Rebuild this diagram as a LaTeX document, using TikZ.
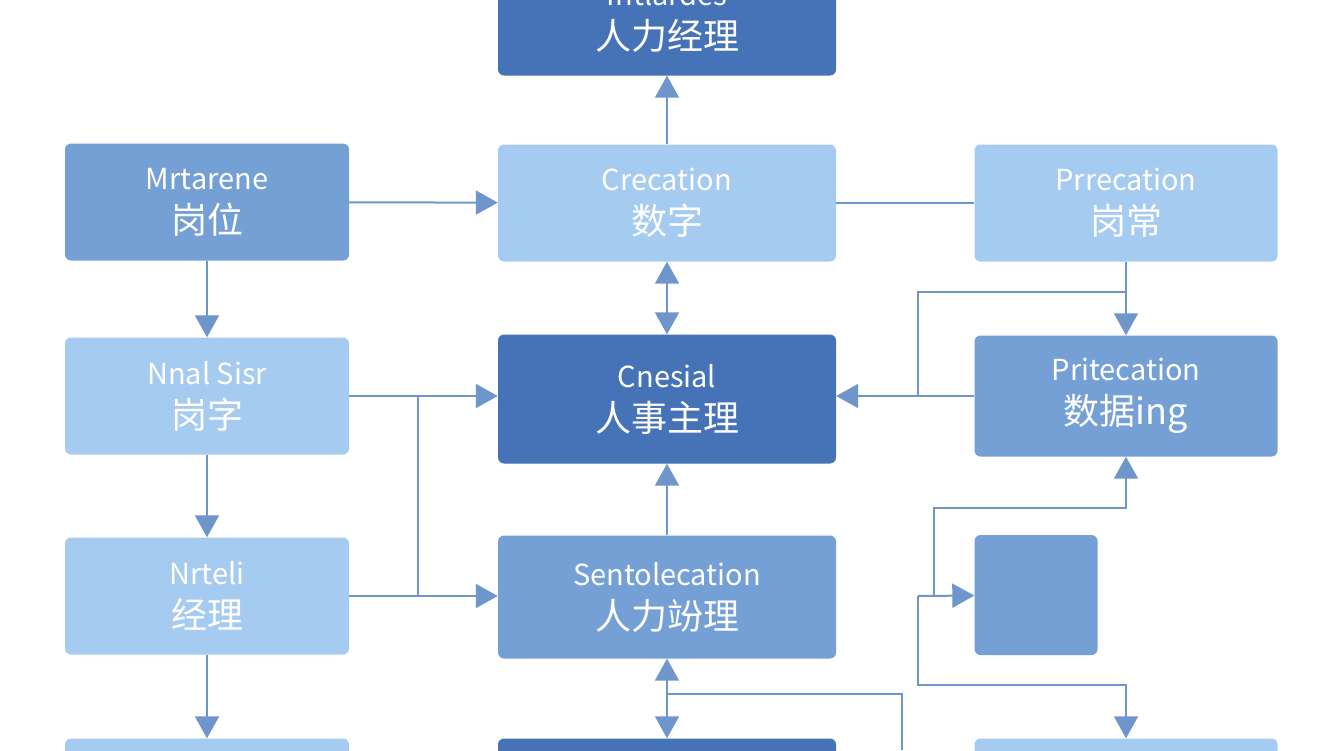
\documentclass[tikz,border=0pt]{standalone}
\usepackage{fontspec}
\setmainfont{Noto Sans CJK SC}
\usetikzlibrary{arrows.meta,positioning}
\definecolor{boxdark}{HTML}{4673B7}
\definecolor{boxmid}{HTML}{74A0D6}
\definecolor{boxlight}{HTML}{A6CBF0}
\definecolor{wire}{HTML}{6F96CB}
\tikzset{box/.style={rectangle,rounded corners=6pt,text=white,align=center,
           font=\fontsize{36}{44}\selectfont,
           minimum width=284pt,minimum height=117pt,inner sep=0pt},
         wide/.style={minimum width=338pt},
         dark/.style={box,fill=boxdark},
         mid/.style={box,fill=boxmid},
         light/.style={box,fill=boxlight},
         wire/.style={draw=wire,line width=2pt},
         arr/.style={wire,-{Triangle[width=24pt,length=22pt]}},
         dbl/.style={wire,{Triangle[width=24pt,length=22pt]}-{Triangle[width=24pt,length=22pt]}}
         }
\newcommand{\lbl}[2]{{\fontsize{29}{44}\selectfont #1}\\#2}

\begin{document}
\begin{tikzpicture}[x=1pt,y=-1pt]
\fill[white] (0,0) rectangle (1344,750);
\useasboundingbox (0,0) rectangle (1344,750);
\clip (0,0) rectangle (1344,750);
% centre column
\node[dark,wide]  (top) at (667,17)  {\lbl{Intlardes}{人力经理}};
\node[light,wide] (c1)  at (667,203) {\lbl{Crecation}{数字}};
\node[dark,wide,minimum height=129pt] (c2) at (667,399) {\lbl{Cnesial}{人事主理}};
\node[mid,wide,minimum height=123pt]  (c3) at (667,597) {\lbl{Sentolecation}{人力竕理}};
\node[dark,wide]  (c4)  at (667,797) {};
% left column
\node[mid]   (l1) at (207,202) {\lbl{Mrtarene}{岗位}};
\node[light] (l2) at (207,396) {\lbl{Nnal Sisr}{岗字}};
\node[light] (l3) at (207,596) {\lbl{Nrteli}{经理}};
\node[light] (l4) at (207,797) {};
% right column
\node[light,minimum width=303pt] (r1) at (1126,203) {\lbl{Prrecation}{岗常}};
\node[mid,minimum width=303pt,minimum height=121pt] (r2) at (1126,396) {\lbl{Pritecation}{数据ing}};
\node[mid,minimum width=123pt,minimum height=120pt] (sq) at (1036,595) {};
\node[light,minimum width=303pt] (r4) at (1126,797) {};
% connectors
\draw[arr] (c1) -- (top);
\draw[arr] (l1) -- (c1);
\draw[wire] (c1) -- (r1);
\draw[dbl] (c1) -- (c2);
\draw[arr] (l1) -- (l2);
\draw[arr] (l2) -- (l3);
\draw[arr] (l3) -- (l4);
\coordinate (ja) at (418,396);
\coordinate (jb) at (418,596);
\draw[arr] (l2) -- (c2.west |- l2);
\draw[arr] (l3) -- (c3.west |- l3);
\draw[wire] (ja) -- (jb);
\draw[arr] (c3) -- (c2);
\draw[dbl] (c3) -- (c4);
\coordinate (jc) at (667,694);
\coordinate (jd) at (902,694);
\coordinate (je) at (902,750);
\draw[wire] (jc) -- (jd) -- (je);
\draw[arr] (r1) -- (r2);
\coordinate (jf) at (1126,292);
\coordinate (jg) at (918,292);
\draw[wire] (jf) -- (jg) -- (918,396);
\draw[arr] (r2) -- (c2.east |- r2);
\coordinate (jh) at (1126,508);
\coordinate (ji) at (934,508);
\draw[arr] (ji |- sq) -- (ji) -- (jh) -- (r2);
\coordinate (jj) at (918,596);
\coordinate (jk) at (918,685);
\coordinate (jl) at (1126,685);
\draw[arr] (jj) -- (sq);
\draw[arr] (jj) -- (jk) -- (jl) -- (r4);
\end{tikzpicture}
\end{document}
